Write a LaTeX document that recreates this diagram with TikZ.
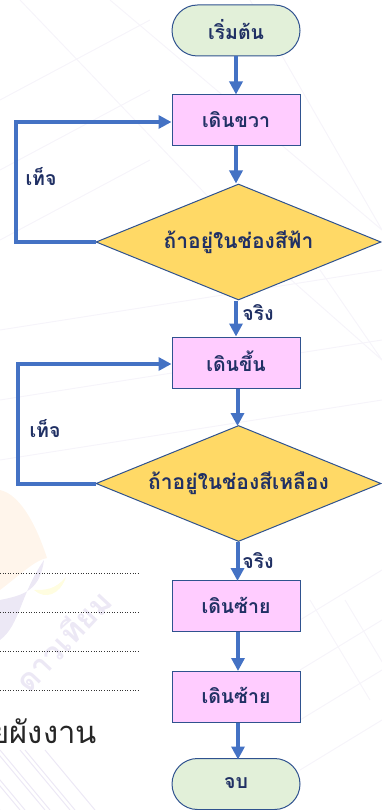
\documentclass[tikz,border=0pt]{standalone}
\usepackage{fontspec}
\usetikzlibrary{shapes.geometric,shapes.misc,arrows.meta}
\newfontfamily\thaifont[Script=Thai]{Loma}
\definecolor{flowline}{RGB}{68,114,196}
\definecolor{flowedge}{RGB}{47,82,143}
\definecolor{flowtext}{RGB}{32,48,100}
\definecolor{termfill}{RGB}{226,240,217}
\definecolor{procfill}{RGB}{255,204,255}
\definecolor{decifill}{RGB}{255,217,102}
\definecolor{markline}{RGB}{246,244,250}
\definecolor{markword}{RGB}{236,232,245}
\tikzset{
  flowfont/.style={text=flowtext,font=\thaifont\bfseries\fontsize{19.5}{22}\selectfont},
  termbox/.style={draw=flowedge,line width=1pt,fill=termfill,rounded rectangle,minimum width=128pt,minimum height=51pt,inner sep=0pt,flowfont},
  procbox/.style={draw=flowedge,line width=1pt,fill=procfill,rectangle,minimum width=128pt,minimum height=51pt,inner sep=0pt,flowfont},
  decibox/.style={draw=flowedge,line width=1pt,fill=decifill,diamond,aspect=2.45,minimum width=285pt,minimum height=116pt,inner sep=0pt,flowfont,font=\thaifont\bfseries\fontsize{21}{24}\selectfont},
  flowarrow/.style={draw=flowline,line width=4pt,-{Triangle[length=13pt,width=13pt]}},
  flowlabel/.style={inner sep=0pt,flowfont},
  dotline/.style={line width=0.6pt,dotted,black!80}
}
\begin{document}
\begin{tikzpicture}[x=1pt,y=1pt,yscale=-1,xscale=1]
\useasboundingbox (0,0) rectangle (382,810);
\clip (0,0) rectangle (382,810);

%Background lines
\foreach \ya/\yb in {100/20, 170/90, 240/160} \draw [markline,line width=1pt] (0,\ya) -- (150,\yb);
\foreach \xa/\xb in {20/240, 110/382, 250/382} \draw [markline,line width=1pt] (\xa,0) -- (\xb,230);
\foreach \ya/\yb in {330/270, 400/340, 460/400} \draw [markline,line width=1pt] (0,\ya) -- (382,\yb);
\foreach \xa/\xb in {280/382, 320/382} \draw [markline,line width=1pt] (\xa,270) -- (\xb,360);
\foreach \ya in {620,670,720,770} \draw [markline,line width=1pt] (300,\ya) -- (382,\ya-50);
\foreach \xa in {310,345} \draw [markline,line width=1pt] (\xa,600) -- (\xa+60,700);
\foreach \xa in {-30,-5,20,45} \draw [markword,line width=1pt] (\xa,750) -- (\xa+50,810);
\foreach \xa in {0,25,50,75} \draw [markword,line width=1pt] (\xa,810) -- (\xa-50,750);

%Watermark
\fill [orange!8] (0,490) .. controls (22,495) and (38,530) .. (47,558) .. controls (35,560) and (20,575) .. (0,590) -- cycle;
\fill [markword] (44,560) .. controls (40,590) and (25,595) .. (0,600) -- (0,640) .. controls (20,625) and (20,595) .. (44,560) -- cycle;
\fill [yellow!12] (66,577) .. controls (55,590) and (45,590) .. (34,590) .. controls (45,600) and (60,595) .. (66,577) -- cycle;
\node [rotate=47,text=markword,inner sep=0pt,font=\thaifont\bfseries\fontsize{31}{34}\selectfont] (mark) at (62,640) {ดาวเทียม};

%Page text
\coordinate (dota) at (0,573); \coordinate (dotb) at (138,573);
\draw [dotline] (dota) -- (dotb);
\coordinate (dotc) at (0,612); \coordinate (dotd) at (138,612);
\draw [dotline] (dotc) -- (dotd);
\coordinate (dote) at (0,651); \coordinate (dotf) at (138,651);
\draw [dotline] (dote) -- (dotf);
\coordinate (dotg) at (0,690); \coordinate (doth) at (138,690);
\draw [dotline] (dotg) -- (doth);
\node [anchor=east,inner sep=0pt,text=black!85,font=\thaifont\fontsize{31}{34}\selectfont] (pagetext) at (97,731) {ยผังงาน};

%Flowchart
\node [termbox] (start) at (236,30.5) {\raisebox{2pt}{เริ่มต้น}};
\node [procbox] (right) at (236,120.5) {\raisebox{2pt}{เดินขวา}};
\node [decibox] (ifsky) at (238.5,242) {\raisebox{2pt}{ถ้าอยู่ในช่องสีฟ้า}};
\node [procbox] (up) at (236,362.5) {\raisebox{2pt}{เดินขึ้น}};
\node [decibox] (ifyellow) at (238.5,483.5) {\raisebox{2pt}{ถ้าอยู่ในช่องสีเหลือง}};
\node [procbox] (lefta) at (236,606) {\raisebox{2pt}{เดินซ้าย}};
\node [procbox] (leftb) at (236,696.5) {\raisebox{2pt}{เดินซ้าย}};
\node [termbox] (stop) at (236,784) {\raisebox{2pt}{จบ}};

\node [flowlabel] (falsea) at (41,177) {เท็จ};
\node [flowlabel] (truea) at (258,313) {จริง};
\node [flowlabel] (falseb) at (45,429) {เท็จ};
\node [flowlabel] (trueb) at (258,561) {จริง};

%Connectors
\draw [flowarrow] (start) -- (right);
\draw [flowarrow] (right) -- (right |- ifsky.north);
\draw [flowarrow] (ifsky.west) -- (16,242) -- (16,122) -- (right.west |- 0,122);
\draw [flowarrow] (ifsky.south -| up.north) -- (up.north);
\draw [flowarrow] (up.south -| ifyellow.north) ++(-1,0) -- ++(0,37.5);
\draw [flowarrow] (ifyellow.west) -- (18,483.5) -- (18,364) -- (up.west |- 0,364);
\draw [flowarrow] (ifyellow.south -| lefta.north) ++(1.5,0) -- ++(0,39);
\draw [flowarrow] (lefta.south) ++(2,0) -- ++(0,39);
\draw [flowarrow] (leftb.south) ++(2,0) -- ++(0,37);
\end{tikzpicture}
\end{document}
